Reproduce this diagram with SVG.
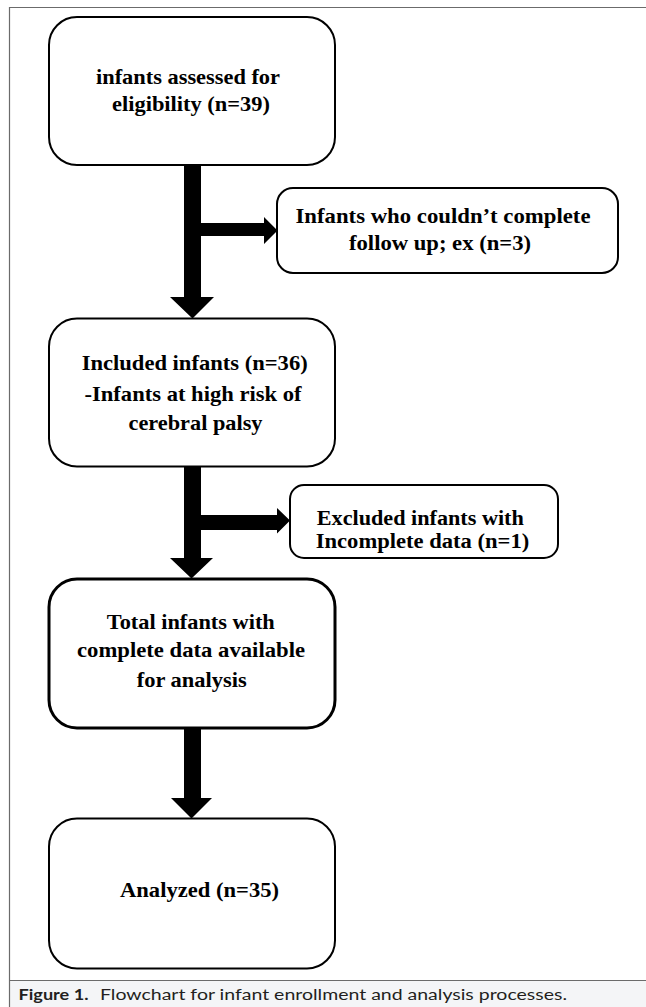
<svg xmlns="http://www.w3.org/2000/svg" width="646" height="1007" viewBox="0 0 646 1007">
  <style>
    .box { fill: #ffffff; stroke: #000000; stroke-width: 2; }
    .box.thick { stroke-width: 3; }
    .lbl { font-family: "Liberation Serif", "Times New Roman", serif; font-weight: bold; font-size: 21.5px; fill: #000000; text-anchor: middle; }
    .lbl.sm { font-size: 20.5px; }
    .conn { fill: #000000; stroke: none; }
    .frame { stroke: #6b6b6b; stroke-width: 1.2; fill: none; }
    .cap { font-family: "Lato", "Open Sans", "Liberation Sans", sans-serif; font-size: 15.5px; fill: #231f20; }
  </style>
  <rect x="0" y="0" width="646" height="1007" fill="#ffffff"/>
  <g id="frame">
    <rect x="9.5" y="980" width="637" height="27" fill="#f4f5f7"/>
    <path class="frame" d="M9.5 1007 V7.5 H646"/>
    <path class="frame" d="M9.5 980.5 H646"/>
  </g>

  <g id="connectors">
    <path class="conn" d="M184 165 H201 V297 H214 L192.5 318.5 L170 297 H184 Z"/>
    <path class="conn" d="M201 223 H264 V217 L277.5 230.5 L264 244 V236 H201 Z"/>
    <path class="conn" d="M184 466 H201 V558 H213 L191.5 578.5 L170 558 H184 Z"/>
    <path class="conn" d="M201 515 H277 V508 L290 520.5 L277 533.5 V530 H201 Z"/>
    <path class="conn" d="M184 728 H201 V798 H212 L191.5 818.5 L171 798 H184 Z"/>
  </g>

  <g id="node-assessed">
    <rect class="box" x="49" y="17" width="286" height="148" rx="28" ry="28"/>
    <text class="lbl" x="188" y="84" textLength="184" lengthAdjust="spacingAndGlyphs">infants assessed for</text>
    <text class="lbl" x="191" y="110.5" textLength="158" lengthAdjust="spacingAndGlyphs">eligibility (n=39)</text>
  </g>

  <g id="node-lost-followup">
    <rect class="box" x="277" y="188" width="341" height="85" rx="16" ry="16"/>
    <text class="lbl" x="443" y="222.5" textLength="295" lengthAdjust="spacingAndGlyphs">Infants who couldn’t complete</text>
    <text class="lbl" x="440" y="250" textLength="182" lengthAdjust="spacingAndGlyphs">follow up; ex (n=3)</text>
  </g>

  <g id="node-included">
    <rect class="box" x="49" y="318.5" width="286" height="148" rx="28" ry="28"/>
    <text class="lbl" x="194.7" y="370" textLength="226" lengthAdjust="spacingAndGlyphs">Included infants (n=36)</text>
    <text class="lbl" x="193" y="400.5" textLength="217" lengthAdjust="spacingAndGlyphs">-Infants at high risk of</text>
    <text class="lbl" x="195.5" y="430" textLength="134" lengthAdjust="spacingAndGlyphs">cerebral palsy</text>
  </g>

  <g id="node-excluded">
    <rect class="box" x="290" y="485" width="268" height="73" rx="14" ry="14"/>
    <text class="lbl sm" x="420.3" y="525" textLength="207" lengthAdjust="spacingAndGlyphs">Excluded infants with</text>
    <text class="lbl sm" x="422.5" y="548.3" textLength="213.5" lengthAdjust="spacingAndGlyphs">Incomplete data (n=1)</text>
  </g>

  <g id="node-complete">
    <rect class="box thick" x="49" y="579" width="286" height="149" rx="28" ry="28"/>
    <text class="lbl" x="190.8" y="629.3" textLength="168" lengthAdjust="spacingAndGlyphs">Total infants with</text>
    <text class="lbl" x="191" y="657.3" textLength="228" lengthAdjust="spacingAndGlyphs">complete data available</text>
    <text class="lbl" x="191.7" y="687.3" textLength="110" lengthAdjust="spacingAndGlyphs">for analysis</text>
  </g>

  <g id="node-analyzed">
    <rect class="box" x="49" y="818.5" width="286" height="150" rx="28" ry="28"/>
    <text class="lbl" x="199.5" y="897.3" textLength="159" lengthAdjust="spacingAndGlyphs">Analyzed (n=35)</text>
  </g>

  <g id="caption">
    <text class="cap" x="18.5" y="999.5" font-weight="bold" textLength="70" lengthAdjust="spacingAndGlyphs">Figure 1.</text>
    <text class="cap" x="100" y="999.5" textLength="467" lengthAdjust="spacingAndGlyphs">Flowchart for infant enrollment and analysis processes.</text>
  </g>
</svg>
